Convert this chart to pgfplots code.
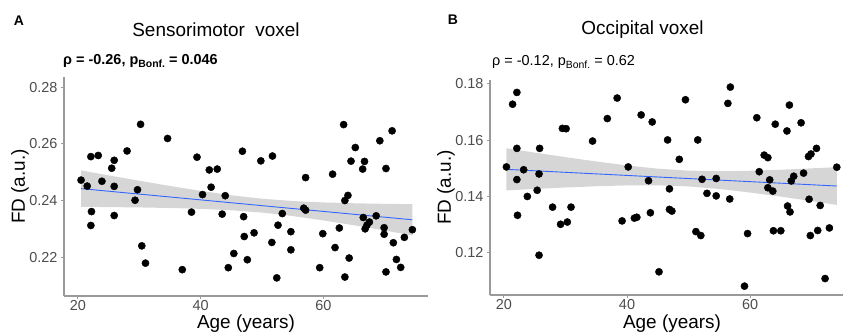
\documentclass[border=0pt]{standalone}
\usepackage{pgfplots}
\pgfplotsset{compat=1.18}
\usepackage{fontspec}
\setmainfont{Liberation Sans}
\definecolor{ggblue}{HTML}{3366FF}
\definecolor{axgray}{HTML}{9A9A9A}
\definecolor{ticklab}{HTML}{4D4D4D}
\definecolor{bandgray}{HTML}{999999}

\pgfplotstableread{
x y
20.5 0.2472
21.5 0.2451
22.1 0.2555
23.3 0.2559
23.9 0.2468
22.2 0.2361
22.1 0.2312
25.5 0.2514
25.9 0.2542
25.9 0.2450
25.9 0.2347
28.0 0.2575
29.3 0.2401
29.7 0.2438
30.2 0.2669
30.4 0.2240
31.0 0.2179
34.6 0.2619
37.0 0.2156
38.5 0.2359
39.4 0.2553
40.3 0.2421
41.4 0.2508
41.7 0.2447
42.7 0.2511
43.5 0.2352
44.0 0.2417
46.8 0.2574
47.0 0.2343
47.1 0.2273
45.4 0.2213
44.5 0.2163
47.6 0.2191
48.7 0.2286
49.8 0.2540
51.7 0.2557
51.6 0.2252
52.6 0.2313
53.3 0.2354
52.4 0.2127
54.7 0.2290
54.7 0.2226
56.8 0.2373
57.1 0.2366
57.1 0.2481
59.4 0.2163
59.9 0.2283
61.5 0.2493
61.9 0.2234
62.6 0.2303
63.3 0.2668
63.5 0.2400
64.0 0.2418
63.5 0.2130
64.2 0.2197
64.5 0.2539
65.2 0.2587
66.7 0.2538
66.4 0.2511
66.5 0.2340
66.8 0.2300
67.1 0.2313
67.5 0.2324
68.6 0.2346
69.2 0.2611
70.2 0.2513
69.9 0.2304
69.9 0.2281
70.2 0.2148
71.2 0.2646
71.4 0.2251
71.9 0.2192
72.6 0.2164
73.2 0.2270
74.5 0.2297
}\smpoints

\pgfplotstableread{
x y
20.4 0.1505
21.4 0.1728
22.1 0.1770
22.1 0.1571
22.1 0.1460
22.2 0.1333
23.2 0.1495
23.8 0.1400
25.4 0.1422
25.8 0.1571
25.7 0.1480
25.7 0.1191
27.9 0.1362
29.2 0.1301
30.3 0.1309
29.5 0.1642
30.1 0.1641
30.9 0.1362
34.4 0.1597
36.8 0.1677
38.4 0.1750
39.2 0.1313
40.2 0.1505
41.2 0.1323
41.6 0.1326
42.3 0.1690
44.1 0.1665
43.5 0.1456
43.8 0.1342
45.2 0.1132
46.6 0.1601
46.9 0.1427
46.9 0.1354
47.3 0.1348
48.5 0.1532
49.5 0.1744
51.5 0.1601
51.2 0.1275
52.0 0.1261
52.2 0.1461
53.0 0.1411
54.5 0.1464
54.5 0.1402
56.4 0.1731
56.8 0.1789
56.7 0.1391
59.1 0.1081
59.6 0.1268
61.1 0.1680
61.5 0.1488
62.3 0.1547
62.9 0.1538
63.2 0.1459
62.9 0.1431
63.7 0.1419
63.8 0.1278
65.0 0.1278
64.1 0.1657
66.0 0.1633
66.4 0.1725
66.7 0.1455
67.1 0.1472
66.1 0.1366
66.5 0.1345
68.3 0.1662
68.7 0.1483
69.5 0.1542
69.9 0.1551
70.8 0.1571
69.6 0.1390
69.8 0.1261
71.0 0.1279
71.4 0.1368
72.2 0.1108
72.9 0.1288
74.1 0.1504
}\occpoints

\pgfplotsset{
  myax/.style={
    scale only axis, width=364bp,
    axis x line*=bottom, axis y line*=left,
    axis line style={axgray, line width=1.1bp, -},
    tick align=outside, major tick length=3bp,
    tick style={axgray, line width=1bp},
    xtick={20,40,60},
    scaled y ticks=false,
    ticklabel style={font=\fontsize{14.5}{16}\selectfont, text=ticklab},
    xticklabel style={inner sep=1bp},
    /pgf/number format/assume math mode=true,
    yticklabel style={/pgf/number format/fixed, /pgf/number format/precision=2, /pgf/number format/fixed zerofill},
    every axis y label/.style={at={(axis description cs:-0.121,0.5)},rotate=90,anchor=center,font=\fontsize{19}{22}\selectfont},
    xlabel={Age (years)}, ylabel={FD (a.u.)},
  }
}

\begin{document}
\begin{tikzpicture}
\path[use as bounding box] (0,0) rectangle (843bp,335bp);

\begin{axis}[myax, at={(64bp,39bp)}, anchor=south west, height=219bp,
  xmin=17.72, xmax=77.05, ymin=0.2063, ymax=0.2836,
  ytick={0.22,0.24,0.26,0.28},
  every axis x label/.style={at={(axis description cs:0.5,-0.126)},anchor=center,inner sep=0pt,font=\fontsize{19}{22}\selectfont}]
\addplot[only marks, mark=*, mark size=3.6bp, black] table[x=x,y=y] {\smpoints};
\addplot[draw=none, fill=bandgray, fill opacity=0.4] coordinates {
(20.5,0.25062) (25,0.24888) (30,0.24698) (35,0.24514) (40,0.24340) (45,0.24186) (50,0.24064) (55,0.23982) (60,0.23932) (65,0.23903) (70,0.23883) (74.5,0.23871)
(74.5,0.22769) (70,0.22941) (65,0.23125) (60,0.23298) (55,0.23452) (50,0.23574) (45,0.23656) (40,0.23706) (35,0.23736) (30,0.23756) (25,0.23768) (20.5,0.23778)
} -- cycle;
\addplot[ggblue, line width=0.9bp] coordinates {(20.5,0.2442) (74.5,0.2332)};
\end{axis}

\begin{axis}[myax, at={(490bp,40bp)}, anchor=south west, height=215bp,
  xmin=17.73, xmax=76.9, ymin=0.10495, ymax=0.18142,
  ytick={0.12,0.14,0.16,0.18},
  every axis x label/.style={at={(axis description cs:0.5,-0.133)},anchor=center,inner sep=0pt,font=\fontsize{19}{22}\selectfont}]
\addplot[only marks, mark=*, mark size=3.6bp, black] table[x=x,y=y] {\occpoints};
\addplot[draw=none, fill=bandgray, fill opacity=0.4] coordinates {
(20.4,0.15713) (25,0.15560) (30,0.15398) (35,0.15244) (40,0.15103) (45,0.14988) (50,0.14918) (55,0.14898) (60,0.14914) (65,0.14951) (70,0.14999) (74.1,0.15042)
(74.1,0.13700) (70,0.13835) (65,0.13993) (60,0.14140) (55,0.14266) (50,0.14356) (45,0.14396) (40,0.14393) (35,0.14362) (30,0.14318) (25,0.14266) (20.4,0.14215)
} -- cycle;
\addplot[ggblue, line width=0.9bp] coordinates {(20.4,0.14964) (74.1,0.14371)};
\end{axis}

\node[font=\bfseries\fontsize{14}{16}\selectfont, anchor=center] at (19bp,314bp) {A};
\node[font=\bfseries\fontsize{14}{16}\selectfont, anchor=center] at (453bp,315bp) {B};
\node[font=\fontsize{19}{22}\selectfont, anchor=base] at (216bp,298bp) {Sensorimotor\ \ voxel};
\node[font=\fontsize{19}{22}\selectfont, anchor=base] at (642.5bp,300bp) {Occipital voxel};
\node[font=\bfseries\fontsize{14.5}{16}\selectfont, anchor=base west, inner sep=0pt] at (63bp,270bp) {ρ = -0.26, p\raisebox{-3bp}{\fontsize{10.5}{12}\selectfont Bonf.} = 0.046};
\node[font=\fontsize{14.5}{16}\selectfont, anchor=base west, inner sep=0pt] at (492bp,269bp) {ρ = -0.12, p\raisebox{-3bp}{\fontsize{10.5}{12}\selectfont Bonf.} = 0.62};
\end{tikzpicture}
\end{document}
